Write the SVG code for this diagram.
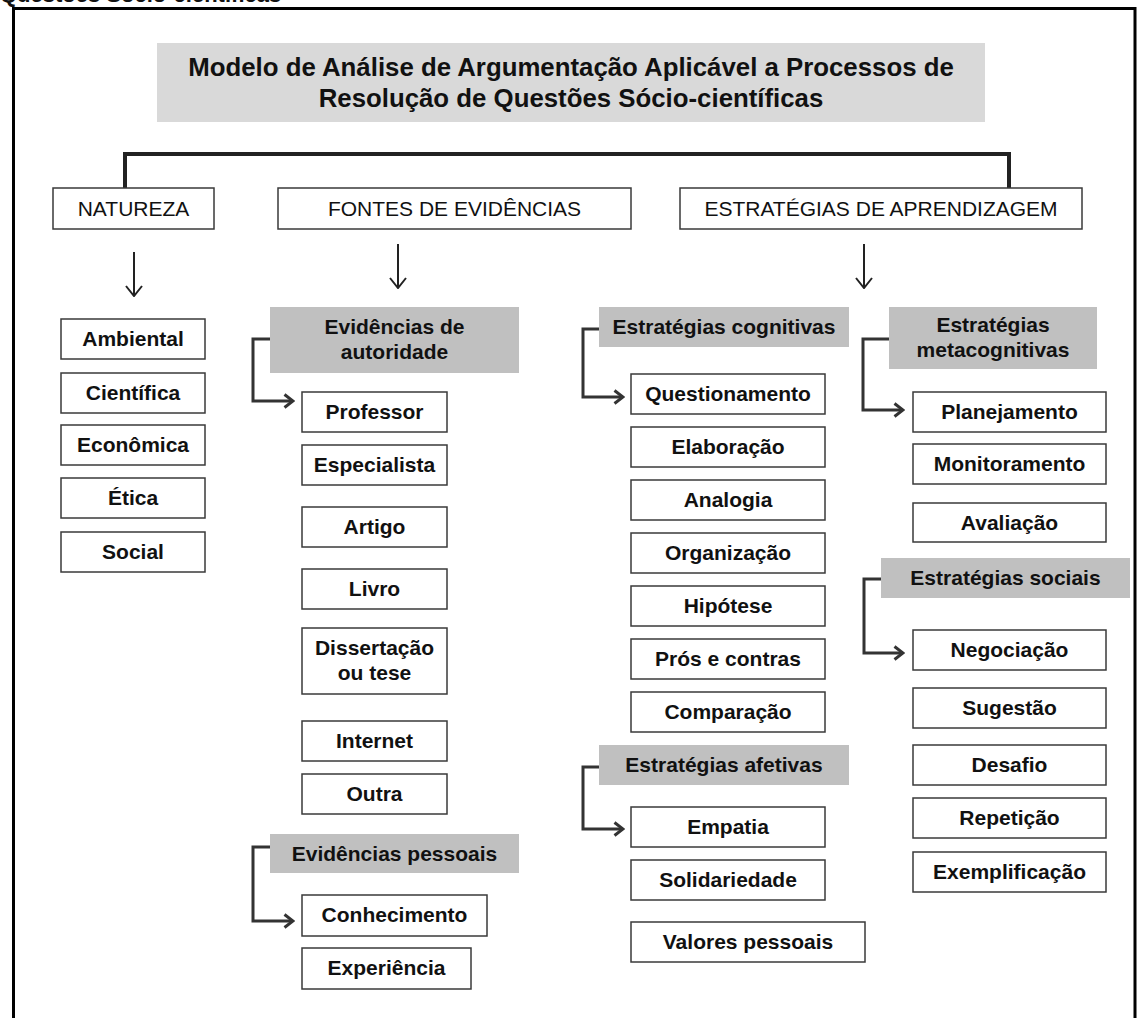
<svg xmlns="http://www.w3.org/2000/svg" width="1138" height="1018" viewBox="0 0 1138 1018">
<defs>
<style>
.bx{fill:#fff;stroke:#3a3a3a;stroke-width:1.5}
.sub{fill:#c0c0c0}
.ttl{fill:#d9d9d9}
.t{font-family:"Liberation Sans",Arial,sans-serif;font-size:21px;font-weight:bold;text-anchor:middle;fill:#111}
.h{font-weight:normal}
.big{font-size:25.8px}
.br{fill:none;stroke:#333;stroke-width:3;marker-end:url(#ch)}
.dn{fill:none;stroke:#222;stroke-width:2;marker-end:url(#chs)}
</style>
<marker id="ch" viewBox="0 0 12 16" refX="10" refY="8" markerWidth="12" markerHeight="16" markerUnits="userSpaceOnUse" orient="auto">
<path d="M1.5,1.5 L10,8 L1.5,14.5" fill="none" stroke="#333" stroke-width="3"/>
</marker>
<marker id="chs" viewBox="0 0 12 18" refX="11" refY="9" markerWidth="12" markerHeight="18" markerUnits="userSpaceOnUse" orient="auto">
<path d="M1,1 L11,9 L1,17" fill="none" stroke="#222" stroke-width="2"/>
</marker>
</defs>
<rect width="1138" height="1018" fill="#fff"/>
<text x="0" y="1.5" class="t" style="text-anchor:start;font-size:22px">Questões Sócio-científicas</text>
<path d="M13.5,1020 V8.5 H1135 V1020" fill="none" stroke="#000" stroke-width="3"/>

<g id="title">
<rect class="ttl" x="157" y="43" width="828" height="79"/>
<text class="t big" x="571" y="76">Modelo de Análise de Argumentação Aplicável a Processos de</text>
<text class="t big" x="571" y="107">Resolução de Questões Sócio-científicas</text>
</g>

<g id="connectors">
<path d="M125,188 V154 H1009 V188" fill="none" stroke="#222" stroke-width="4"/>
<path class="dn" d="M134,252 V296"/>
<path class="dn" d="M398,244 V288"/>
<path class="dn" d="M864,244 V288"/>
<path class="br" d="M270,339 H253 V401 H293"/>
<path class="br" d="M599,329 H583 V397 H623"/>
<path class="br" d="M889,339 H863 V410 H903"/>
<path class="br" d="M599,767 H583 V829 H623"/>
<path class="br" d="M270,847 H253 V921 H293"/>
<path class="br" d="M881,579 H864 V653 H903"/>
</g>

<g id="natureza"><rect class="bx" x="53" y="188" width="161" height="41"/><text class="t h" x="133.5" y="216">NATUREZA</text></g>
<g id="fontes"><rect class="bx" x="278" y="188" width="353" height="41"/><text class="t h" x="454.5" y="216">FONTES DE EVIDÊNCIAS</text></g>
<g id="estrategias"><rect class="bx" x="680" y="188" width="402" height="41"/><text class="t h" x="881" y="216">ESTRATÉGIAS DE APRENDIZAGEM</text></g>

<g id="ambiental"><rect class="bx" x="61" y="319" width="144" height="40"/><text class="t" x="133" y="346">Ambiental</text></g>
<g id="cientifica"><rect class="bx" x="61" y="373" width="144" height="40"/><text class="t" x="133" y="400">Científica</text></g>
<g id="economica"><rect class="bx" x="61" y="425" width="144" height="40"/><text class="t" x="133" y="452">Econômica</text></g>
<g id="etica"><rect class="bx" x="61" y="478" width="144" height="40"/><text class="t" x="133" y="505">Ética</text></g>
<g id="social"><rect class="bx" x="61" y="532" width="144" height="40"/><text class="t" x="133" y="559">Social</text></g>

<g id="ev-autoridade"><rect class="sub" x="270" y="307" width="249" height="66"/><text class="t" x="394.5" y="334">Evidências de</text><text class="t" x="394.5" y="359">autoridade</text></g>
<g id="professor"><rect class="bx" x="302" y="392" width="145" height="40"/><text class="t" x="374.5" y="419">Professor</text></g>
<g id="especialista"><rect class="bx" x="302" y="445" width="145" height="40"/><text class="t" x="374.5" y="472">Especialista</text></g>
<g id="artigo"><rect class="bx" x="302" y="507" width="145" height="40"/><text class="t" x="374.5" y="534">Artigo</text></g>
<g id="livro"><rect class="bx" x="302" y="569" width="145" height="40"/><text class="t" x="374.5" y="596">Livro</text></g>
<g id="dissertacao"><rect class="bx" x="302" y="628" width="145" height="66"/><text class="t" x="374.5" y="655">Dissertação</text><text class="t" x="374.5" y="680">ou tese</text></g>
<g id="internet"><rect class="bx" x="302" y="721" width="145" height="40"/><text class="t" x="374.5" y="748">Internet</text></g>
<g id="outra"><rect class="bx" x="302" y="774" width="145" height="40"/><text class="t" x="374.5" y="801">Outra</text></g>
<g id="ev-pessoais"><rect class="sub" x="270" y="834" width="249" height="39"/><text class="t" x="394.5" y="861">Evidências pessoais</text></g>
<g id="conhecimento"><rect class="bx" x="302" y="895" width="185" height="41"/><text class="t" x="394.5" y="922">Conhecimento</text></g>
<g id="experiencia"><rect class="bx" x="302" y="948" width="169" height="41"/><text class="t" x="386.5" y="975">Experiência</text></g>

<g id="est-cognitivas"><rect class="sub" x="599" y="307" width="250" height="40"/><text class="t" x="724" y="334">Estratégias cognitivas</text></g>
<g id="questionamento"><rect class="bx" x="631" y="374" width="194" height="40"/><text class="t" x="728" y="401">Questionamento</text></g>
<g id="elaboracao"><rect class="bx" x="631" y="427" width="194" height="40"/><text class="t" x="728" y="454">Elaboração</text></g>
<g id="analogia"><rect class="bx" x="631" y="480" width="194" height="40"/><text class="t" x="728" y="507">Analogia</text></g>
<g id="organizacao"><rect class="bx" x="631" y="533" width="194" height="40"/><text class="t" x="728" y="560">Organização</text></g>
<g id="hipotese"><rect class="bx" x="631" y="586" width="194" height="40"/><text class="t" x="728" y="613">Hipótese</text></g>
<g id="pros-contras"><rect class="bx" x="631" y="639" width="194" height="40"/><text class="t" x="728" y="666">Prós e contras</text></g>
<g id="comparacao"><rect class="bx" x="631" y="692" width="194" height="40"/><text class="t" x="728" y="719">Comparação</text></g>
<g id="est-afetivas"><rect class="sub" x="599" y="745" width="250" height="40"/><text class="t" x="724" y="772">Estratégias afetivas</text></g>
<g id="empatia"><rect class="bx" x="631" y="807" width="194" height="40"/><text class="t" x="728" y="834">Empatia</text></g>
<g id="solidariedade"><rect class="bx" x="631" y="860" width="194" height="40"/><text class="t" x="728" y="887">Solidariedade</text></g>
<g id="valores"><rect class="bx" x="631" y="922" width="234" height="40"/><text class="t" x="748" y="949">Valores pessoais</text></g>

<g id="est-metacognitivas"><rect class="sub" x="889" y="307" width="208" height="62"/><text class="t" x="993" y="332">Estratégias</text><text class="t" x="993" y="357">metacognitivas</text></g>
<g id="planejamento"><rect class="bx" x="913" y="392" width="193" height="40"/><text class="t" x="1009.5" y="419">Planejamento</text></g>
<g id="monitoramento"><rect class="bx" x="913" y="444" width="193" height="40"/><text class="t" x="1009.5" y="471">Monitoramento</text></g>
<g id="avaliacao"><rect class="bx" x="913" y="503" width="193" height="39"/><text class="t" x="1009.5" y="530">Avaliação</text></g>
<g id="est-sociais"><rect class="sub" x="881" y="558" width="249" height="40"/><text class="t" x="1005.5" y="585">Estratégias sociais</text></g>
<g id="negociacao"><rect class="bx" x="913" y="630" width="193" height="40"/><text class="t" x="1009.5" y="657">Negociação</text></g>
<g id="sugestao"><rect class="bx" x="913" y="688" width="193" height="40"/><text class="t" x="1009.5" y="715">Sugestão</text></g>
<g id="desafio"><rect class="bx" x="913" y="745" width="193" height="40"/><text class="t" x="1009.5" y="772">Desafio</text></g>
<g id="repeticao"><rect class="bx" x="913" y="798" width="193" height="40"/><text class="t" x="1009.5" y="825">Repetição</text></g>
<g id="exemplificacao"><rect class="bx" x="913" y="852" width="193" height="40"/><text class="t" x="1009.5" y="879">Exemplificação</text></g>
</svg>
